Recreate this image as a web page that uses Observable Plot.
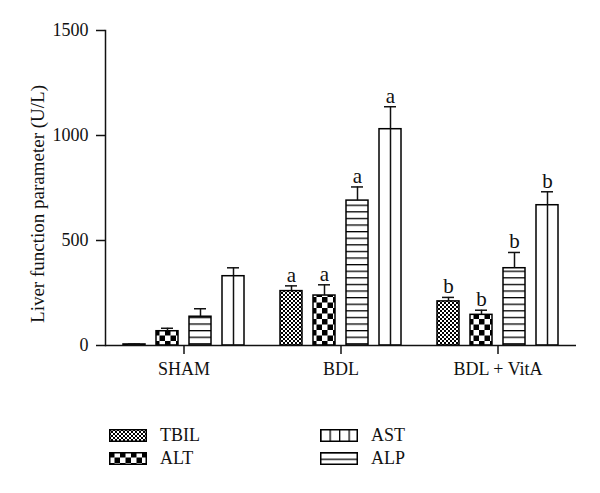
<!DOCTYPE html>
<html><head><meta charset="utf-8">
<script src="https://cdn.jsdelivr.net/npm/d3@7"></script>
<script src="https://cdn.jsdelivr.net/npm/@observablehq/plot@0.6"></script>
<style>
body{margin:0;background:#fff;font-family:"Liberation Serif",serif;color:#111;}
#legend{display:grid;grid-template-columns:211px auto;grid-auto-rows:23px;padding-left:109px;margin-top:29px;font-size:18px;}
.item{display:flex;align-items:center;gap:13px;}
.item svg{display:block;}
</style></head><body>
<div id="chart"></div>
<div id="legend"></div>
<script>
const groups = ["SHAM", "BDL", "BDL + VitA"];
const series = ["TBIL", "ALT", "ALP", "AST"];          // bar order left to right
const legendOrder = ["TBIL", "ALT", "AST", "ALP"];     // legend column-major order
const TBIL = [5, 259, 210];
const ALT = [68, 238, 146];
const ALP = [137, 690, 368];
const AST = [330, 1030, 668];
const TBIL_err = [2, 25, 19];
const ALT_err = [14, 51, 22];
const ALP_err = [38, 65, 75];
const AST_err = [40, 107, 64];
const TBIL_sig = ["", "a", "b"];
const ALT_sig = ["", "a", "b"];
const ALP_sig = ["", "a", "b"];
const AST_sig = ["", "a", "b"];
const yTicks = [0, 500, 1000, 1500];
const yTitle = "Liver function parameter (U/L)";

const vals = {TBIL, ALT, ALP, AST};
const errs = {TBIL: TBIL_err, ALT: ALT_err, ALP: ALP_err, AST: AST_err};
const sigs = {TBIL: TBIL_sig, ALT: ALT_sig, ALP: ALP_sig, AST: AST_sig};
const rows = [];
groups.forEach((g, i) => series.forEach(s => rows.push({group: g, series: s, value: vals[s][i], err: errs[s][i], sig: sigs[s][i]})));

const lw = 1.5;
const chart = Plot.plot({
  width: 600, height: 395,
  marginLeft: 105, marginRight: 24, marginTop: 30, marginBottom: 50,
  style: {fontFamily: "Liberation Serif, serif", fontSize: "18px", color: "#111", background: "white", overflow: "visible"},
  fx: {domain: groups, padding: 0, label: null},
  x: {domain: series, paddingInner: 0.33, paddingOuter: 0.51, axis: null},
  y: {domain: [0, 1500], axis: null},
  marks: [
    ...series.map(s => Plot.barY(rows.filter(d => d.series === s), {fx: "group", x: "series", y: "value", fill: `url(#pat-${s})`, stroke: "black", strokeWidth: lw})),
    Plot.ruleX(rows.filter(d => d.series === "AST"), {fx: "group", x: "series", y1: 0, y2: "value", strokeWidth: lw}),
    Plot.ruleX(rows, {fx: "group", x: "series", y1: "value", y2: d => d.value + d.err, strokeWidth: lw}),
    Plot.tickY(rows, {fx: "group", x: "series", y: d => d.value + d.err, insetLeft: 5, insetRight: 5, strokeWidth: lw}),
    Plot.text(rows.filter(d => d.sig), {fx: "group", x: "series", y: d => d.value + d.err, text: "sig", dy: -4, lineAnchor: "bottom", fontSize: 21}),
    Plot.ruleY([0], {strokeWidth: lw}),
    Plot.frame({anchor: "left", facetAnchor: "left", strokeWidth: lw}),
    Plot.axisY({ticks: yTicks, tickSize: 9, tickPadding: 8, tickFormat: d => String(d), label: null, strokeWidth: lw}),
    Plot.text([yTitle], {frameAnchor: "left", facetAnchor: "left", rotate: -90, dx: -68, dy: 16, lineAnchor: "middle", textAnchor: "middle", fontSize: 19}),
    Plot.axisFx({anchor: "bottom", tickSize: 9, tickPadding: 8, label: null, strokeWidth: lw})
  ]
});
document.getElementById("chart").append(chart);

const svg = chart.tagName.toLowerCase() === "svg" ? chart : chart.querySelector("svg");
const defs = d3.select(svg).insert("defs", ":first-child");
function pat(id, w, h, draw) {
  const p = defs.append("pattern").attr("id", id).attr("patternUnits", "userSpaceOnUse").attr("width", w).attr("height", h);
  p.append("rect").attr("width", w).attr("height", h).attr("fill", "white");
  draw(p);
}
pat("pat-TBIL", 4, 4, p => {
  p.append("rect").attr("width", 2).attr("height", 2).attr("fill", "black");
  p.append("rect").attr("x", 2).attr("y", 2).attr("width", 2).attr("height", 2).attr("fill", "black");
});
pat("pat-ALT", 11, 11, p => {
  p.append("rect").attr("width", 5.5).attr("height", 5.5).attr("fill", "black");
  p.append("rect").attr("x", 5.5).attr("y", 5.5).attr("width", 5.5).attr("height", 5.5).attr("fill", "black");
});
pat("pat-ALP", 10, 6.6, p => {
  p.append("rect").attr("y", 0).attr("width", 10).attr("height", 1.3).attr("fill", "black");
});
pat("pat-AST", 10, 10, p => {});
pat("pat-AST-leg", 9.5, 10, p => {
  p.append("rect").attr("x", 0).attr("width", 1.3).attr("height", 10).attr("fill", "black");
});

const legendFill = {TBIL: "pat-TBIL", ALT: "pat-ALT", AST: "pat-AST-leg", ALP: "pat-ALP"};
const cols = [legendOrder.slice(0, 2), legendOrder.slice(2)];
const ordered = [cols[0][0], cols[1][0], cols[0][1], cols[1][1]];
const leg = d3.select("#legend");
ordered.forEach(s => {
  const it = leg.append("div").attr("class", "item");
  const sw = it.append("svg").attr("width", 38).attr("height", 13);
  sw.append("rect").attr("x", 0.75).attr("y", 0.75).attr("width", 36.5).attr("height", 11.5)
    .attr("fill", `url(#${legendFill[s]})`).attr("stroke", "black").attr("stroke-width", 1.5);
  it.append("span").text(s);
});
</script>
</body></html>
